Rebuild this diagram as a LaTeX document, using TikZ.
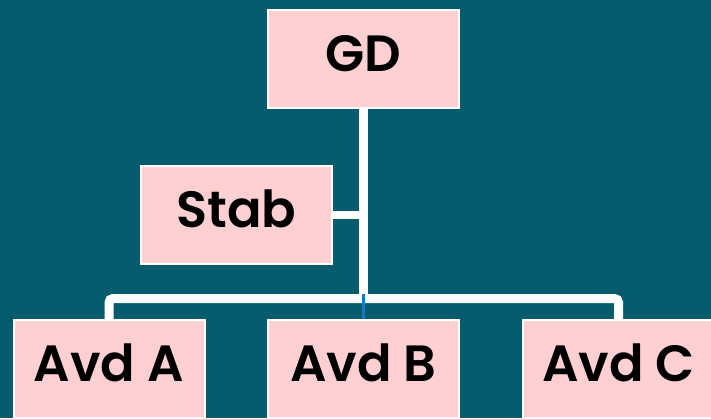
\documentclass[tikz,border=0pt]{standalone}
\usepackage{fontspec}
\setmainfont{Poppins}[BoldFont={Poppins SemiBold}]
\usetikzlibrary{backgrounds}
\definecolor{bgteal}{RGB}{6,91,108}
\definecolor{boxpink}{RGB}{255,208,210}
\definecolor{thinblue}{RGB}{24,120,196}
\begin{document}
\begin{tikzpicture}[x=1pt,y=-1pt,
  orgbox/.style={draw=white,line width=2pt,fill=boxpink,minimum width=191pt,minimum height=98pt,
    inner sep=0pt,text height=36pt,text depth=12pt,font=\fontsize{51}{51}\selectfont\bfseries,text=black},
  conn/.style={draw=white,line width=9pt},
  lowconn/.style={draw=white,line width=9pt,rounded corners=4pt}]
\useasboundingbox (0,0) rectangle (711,418);
\coordinate (j) at (363.5,298.5);
\coordinate (sj) at (363.5,215);
\coordinate (la) at (109,298.5);
\coordinate (lc) at (618.5,298.5);
\node[orgbox] (gd) at (363.5,59) {GD};
\node[orgbox] (stab) at (236.5,215) {Stab};
\node[orgbox] (a) at (109,369) {Avd A};
\node[orgbox] (b) at (363.5,369) {Avd B};
\node[orgbox] (c) at (618.5,369) {Avd C};
\begin{scope}[on background layer]
\fill[bgteal] (0,0) rectangle (711,418);
\draw[conn] (gd.south) -- (j);
\draw[conn,line width=8pt] (stab.east) -- (sj);
\draw[lowconn] (a.north) -- (la) -- (lc) -- (c.north);
\draw[thinblue,line width=2.5pt] ([yshift=4.5pt]j) -- (b.north);
\end{scope}
\end{tikzpicture}
\end{document}
